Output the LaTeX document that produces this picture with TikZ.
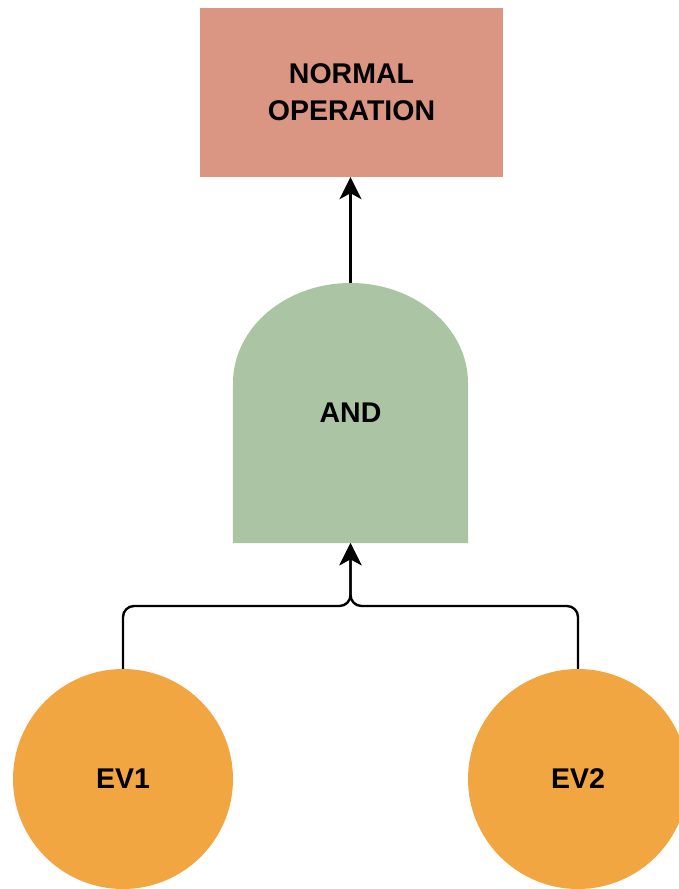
\documentclass[tikz,border=0pt]{standalone}
\usepackage{fontspec}
\setmainfont{Liberation Sans}
\usetikzlibrary{arrows.meta}
\definecolor{topfill}{RGB}{219,150,131}
\definecolor{gatefill}{RGB}{171,197,164}
\definecolor{evfill}{RGB}{242,166,66}
\begin{document}
\begin{tikzpicture}[x=1pt,y=-1pt,
  lbl/.style={font=\fontsize{28.5}{36.7}\selectfont\bfseries, text=black, align=center},
  event/.style={circle, fill=evfill, minimum size=220pt, inner sep=0pt, lbl},
  conn/.style={line width=2.4pt, -{Stealth[length=22pt,width=22pt,inset=6pt]}, rounded corners=11pt}]
  \useasboundingbox (0,0) rectangle (678,889);

  % top event
  \node[rectangle, fill=topfill, minimum width=303pt, minimum height=169pt,
        inner sep=0pt, lbl] (top) at (351.5,92.5) {NORMAL\\OPERATION};

  % AND gate: rounded top, flat bottom
  \node[rectangle, minimum width=235pt, minimum height=260pt, inner sep=0pt, lbl]
        (gate) at (350.5,413) {};
  \fill[gatefill] (gate.south west) -- (233,383)
        arc[start angle=180, end angle=0, x radius=117.5pt, y radius=100pt]
        -- (gate.south east) -- cycle;
  \node[lbl] at (gate.center) {AND};

  % basic events
  \node[event] (ev1) at (123,779) {EV1};
  \node[event] (ev2) at (578,779) {EV2};

  % connectors
  \draw[conn] (gate.north) -- (gate.north |- top.south);
  \coordinate (bus) at (350.5,606);
  \draw[conn] (ev1.north) -- (ev1.north |- bus) -- (bus) -- (gate.south);
  \draw[conn] (ev2.north) -- (ev2.north |- bus) -- (bus) -- (gate.south);
\end{tikzpicture}
\end{document}
